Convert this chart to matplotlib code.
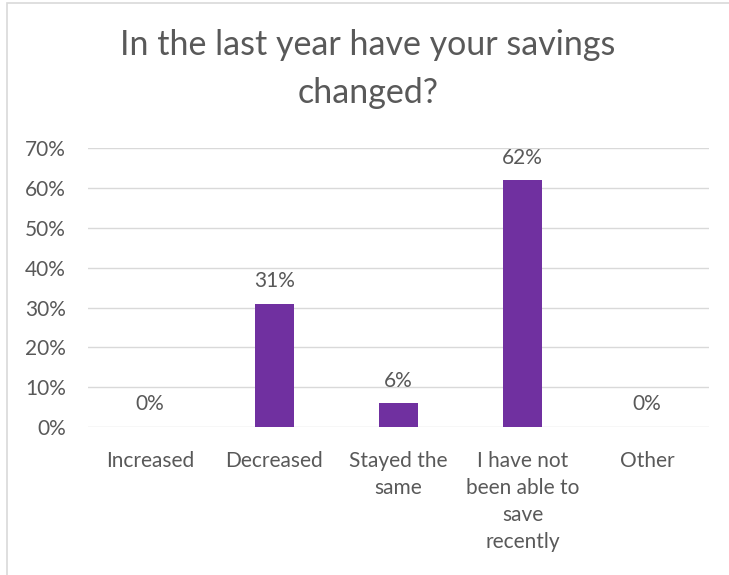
import matplotlib
matplotlib.use("Agg")
import matplotlib.pyplot as plt
from matplotlib.patches import Rectangle

categories = ["Increased", "Decreased", "Stayed the\nsame", "I have not\nbeen able to\nsave\nrecently", "Other"]
values = [0, 31, 6, 62, 0]
yticks = [0, 10, 20, 30, 40, 50, 60, 70]
title = "In the last year have your savings\nchanged?"

plt.rcParams['font.family'] = ['Lato', 'DejaVu Sans']
txt = "#595959"
grid = "#D9D9D9"
bar_color = "#7030A0"

W, H = 729, 575
fig = plt.figure(figsize=(W/100, H/100), dpi=100)
fig.patch.set_facecolor("white")

# chart border (cropped on right/bottom)
fig.patches.append(Rectangle((7/W, -0.05), 1.2, 1 - 3/H + 0.05, transform=fig.transFigure,
                             fill=False, edgecolor=grid, linewidth=1.2))

ax = fig.add_axes([88/W, 1 - 427/H, (709-88)/W, (427-148.3)/H])
x = list(range(len(categories)))
ax.bar(x, values, width=0.31, color=bar_color, zorder=3)
ax.set_xlim(-0.5, len(categories) - 0.5)
ax.set_ylim(0, 70)
ax.set_yticks(yticks)
ax.set_yticklabels([f"{v}%" for v in yticks], color=txt, fontsize=15)
ax.set_xticks(x)
ax.set_xticklabels(categories, color=txt, fontsize=15, linespacing=1.45, va="top")
ax.tick_params(axis="both", length=0)
ax.tick_params(axis="y", pad=16)
ax.tick_params(axis="x", pad=17)
ax.grid(axis="y", color=grid, linewidth=1.0, zorder=0)
for s in ax.spines.values():
    s.set_visible(False)

for xi, v in zip(x, values):
    ax.annotate(f"{v}%", (xi, v), xytext=(0, 9), textcoords="offset points",
                ha="center", va="bottom", color=txt, fontsize=15)

fig.text(0.5 + 7/W/2, 1 - 69/H, title, ha="center", va="center", color=txt,
         fontsize=24.5, linespacing=1.6)

fig.savefig("out.png", dpi=100)
